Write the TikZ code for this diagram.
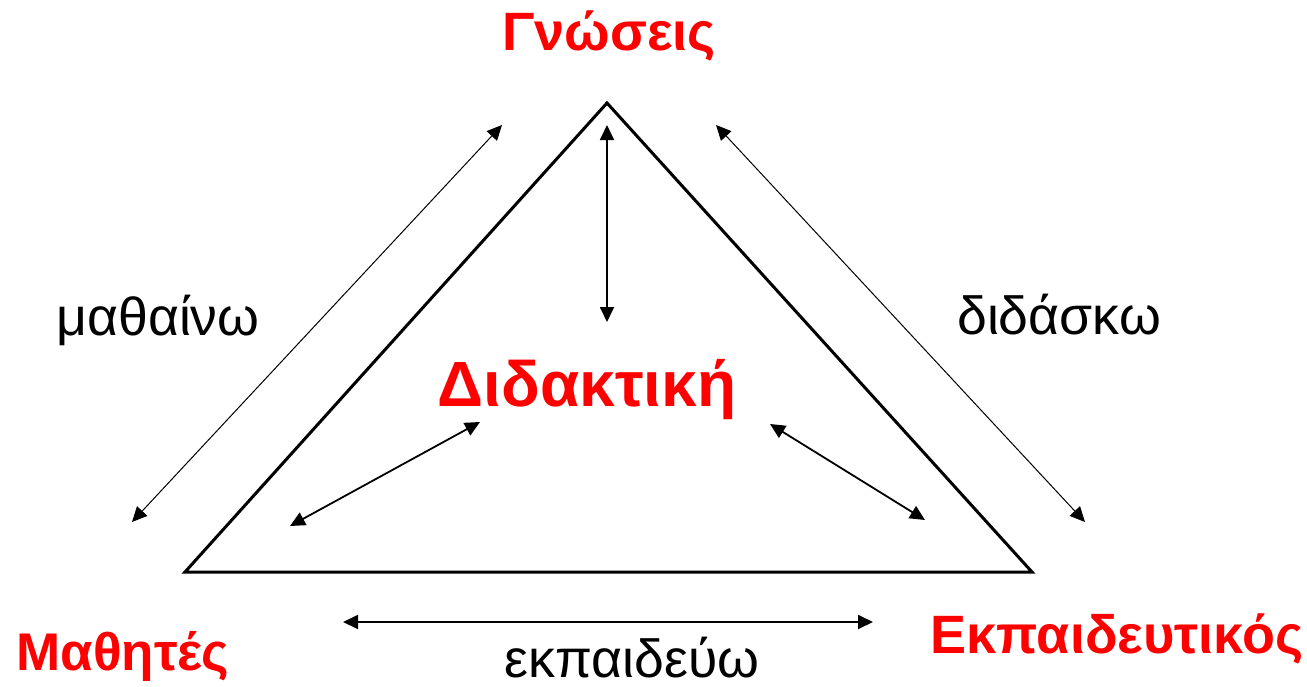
\documentclass[tikz,border=0pt]{standalone}
\usepackage{fontspec}
\setmainfont{Liberation Sans}
\usetikzlibrary{arrows.meta}
\definecolor{hot}{RGB}{255,0,0}
\tikzset{
  pole/.style={font=\bfseries\fontsize{27}{32}\selectfont,text=hot,inner sep=0pt,anchor=base},
  verb/.style={font=\fontsize{26.8}{30}\selectfont,inner sep=0pt,anchor=base},
  dar/.style={{Triangle[length=7.5pt,width=7pt]}-{Triangle[length=7.5pt,width=7pt]}},
}

\begin{document}
\begin{tikzpicture}[x=0.5pt,y=-0.5pt,
  edge/.style={line width=1.5pt,line join=miter},
  thin/.style={dar,line width=0.5pt},
  mid/.style={dar,line width=0.9pt}]
  \useasboundingbox (0,0) rectangle (1307,686);
  % corners of the triangle
  \coordinate (top) at (607,103);
  \coordinate (bl)  at (185,572);
  \coordinate (br)  at (1032,572);
  \draw[edge] (top) -- (bl) -- (br) -- cycle;
  % poles and centre
  \node[pole] (know)  at (609,50)  {Γνώσεις};
  \node[pole,font=\bfseries\fontsize{32}{36}\selectfont] (did) at (587,406) {Διδακτική};
  \node[pole,font=\bfseries\fontsize{26.5}{32}\selectfont] (stud) at (123,670) {Μαθητές};
  \node[pole] (tchr)  at (1117,653) {Εκπαιδευτικός};
  % verbs
  \node[verb] (learn) at (158,335) {μαθαίνω};
  \node[verb] (teach) at (1059,334) {διδάσκω};
  \node[verb] (educ)  at (632,677) {εκπαιδεύω};
  % arrow ends
  \coordinate (l1) at (132,522);  \coordinate (l2) at (502,125);
  \coordinate (r1) at (716,125);  \coordinate (r2) at (1085,522);
  \coordinate (v1) at (607,125);  \coordinate (v2) at (607,322);
  \coordinate (a1) at (290,526);  \coordinate (a2) at (480,422);
  \coordinate (b1) at (770,424);  \coordinate (b2) at (925,520);
  \coordinate (h1) at (343,622);  \coordinate (h2) at (873,622);
  % arrows
  \draw[thin] (l1) -- (l2);
  \draw[thin] (r1) -- (r2);
  \draw[mid]  (v1) -- (v2);
  \draw[mid]  (a1) -- (a2);
  \draw[mid]  (b1) -- (b2);
  \draw[mid]  (h1) -- (h2);
\end{tikzpicture}
\end{document}
